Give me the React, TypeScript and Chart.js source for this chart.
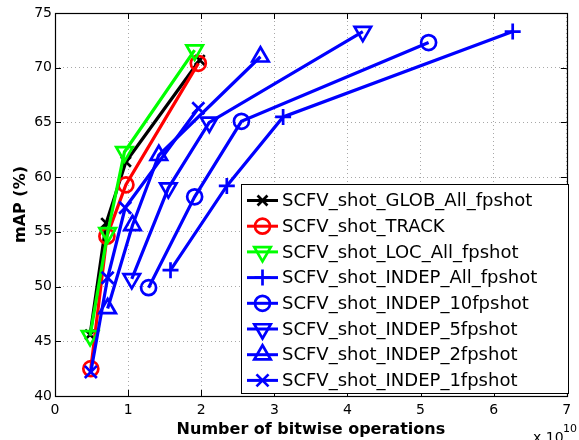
import React, { useEffect, useRef } from 'react';
import { Chart, registerables } from 'chart.js';
import { drawPoint } from 'chart.js/helpers';

Chart.register(...registerables);

const FONT = '"DejaVu Sans", "Liberation Sans", sans-serif';

const seriesNames = [
  'SCFV_shot_GLOB_All_fpshot',
  'SCFV_shot_TRACK',
  'SCFV_shot_LOC_All_fpshot',
  'SCFV_shot_INDEP_All_fpshot',
  'SCFV_shot_INDEP_10fpshot',
  'SCFV_shot_INDEP_5fpshot',
  'SCFV_shot_INDEP_2fpshot',
  'SCFV_shot_INDEP_1fpshot',
];

// x values in units of 10^10 bitwise operations, y values mAP (%)
const globX = [0.48, 0.7, 0.97, 1.98];
const globY = [45.6, 55.8, 61.4, 70.7];
const trackX = [0.49, 0.71, 0.97, 1.96];
const trackY = [42.5, 54.6, 59.3, 70.4];
const locX = [0.48, 0.72, 0.95, 1.91];
const locY = [45.5, 54.9, 62.3, 71.6];
const indepAllX = [1.58, 2.35, 3.12, 6.26];
const indepAllY = [51.5, 59.2, 65.5, 73.3];
const indep10X = [1.28, 1.91, 2.55, 5.11];
const indep10Y = [49.9, 58.2, 65.1, 72.3];
const indep5X = [1.05, 1.55, 2.11, 4.21];
const indep5Y = [50.7, 59.0, 65.0, 73.3];
const indep2X = [0.72, 1.06, 1.42, 2.81];
const indep2Y = [48.0, 55.6, 62.0, 71.0];
const indep1X = [0.49, 0.72, 0.96, 1.96];
const indep1Y = [42.2, 50.8, 57.2, 66.3];

const xTickValues = [0, 1, 2, 3, 4, 5, 6, 7];
const yTickValues = [40, 45, 50, 55, 60, 65, 70, 75];

const xs = [globX, trackX, locX, indepAllX, indep10X, indep5X, indep2X, indep1X];
const ys = [globY, trackY, locY, indepAllY, indep10Y, indep5Y, indep2Y, indep1Y];

const styles = [
  { color: '#000000', pointStyle: 'crossRot', rotation: 0, radius: 7 },
  { color: '#ff0000', pointStyle: 'circle', rotation: 0, radius: 7.5 },
  { color: '#00ff00', pointStyle: 'triangle', rotation: 180, radius: 9.5 },
  { color: '#0000ff', pointStyle: 'cross', rotation: 0, radius: 8 },
  { color: '#0000ff', pointStyle: 'circle', rotation: 0, radius: 7.5 },
  { color: '#0000ff', pointStyle: 'triangle', rotation: 180, radius: 9.5 },
  { color: '#0000ff', pointStyle: 'triangle', rotation: 0, radius: 9.5 },
  { color: '#0000ff', pointStyle: 'crossRot', rotation: 0, radius: 8.5 },
];

const frameAndLegend = {
  id: 'frameAndLegend',
  afterDatasetsDraw(chart: any) {
    const { ctx, chartArea, scales } = chart;
    const { left, right, top, bottom } = chartArea;
    ctx.save();
    ctx.strokeStyle = '#000';
    ctx.lineWidth = 1.2;
    ctx.setLineDash([]);
    ctx.strokeRect(Math.round(left) + 0.5, Math.round(top) + 0.5, Math.round(right - left), Math.round(bottom - top));
    const tl = 6;
    ctx.lineWidth = 1;
    ctx.beginPath();
    for (const t of scales.x.ticks) {
      const px = Math.round(scales.x.getPixelForValue(t.value)) + 0.5;
      ctx.moveTo(px, bottom);
      ctx.lineTo(px, bottom - tl);
      ctx.moveTo(px, top);
      ctx.lineTo(px, top + tl);
    }
    for (const t of scales.y.ticks) {
      const py = Math.round(scales.y.getPixelForValue(t.value)) + 0.5;
      ctx.moveTo(left, py);
      ctx.lineTo(left + tl, py);
      ctx.moveTo(right, py);
      ctx.lineTo(right - tl, py);
    }
    ctx.stroke();
    ctx.restore();
  },
  afterDraw(chart: any) {
    const { ctx } = chart;
    ctx.save();
    // legend box
    const bx = 241.5, by = 184.5, bw = 327, bh = 209;
    ctx.fillStyle = '#fff';
    ctx.fillRect(bx, by, bw, bh);
    ctx.strokeStyle = '#000';
    ctx.lineWidth = 1;
    ctx.strokeRect(bx, by, bw, bh);
    const rowH = 25.7;
    chart.data.datasets.forEach((ds: any, i: number) => {
      const yy = by + 16 + i * rowH;
      ctx.strokeStyle = ds.borderColor;
      ctx.lineWidth = 3;
      ctx.beginPath();
      ctx.moveTo(247, yy);
      ctx.lineTo(278, yy);
      ctx.stroke();
      ctx.fillStyle = 'rgba(0,0,0,0)';
      ctx.strokeStyle = ds.borderColor;
      ctx.lineWidth = ds.pointBorderWidth;
      drawPoint(ctx, {
        pointStyle: ds.pointStyle,
        rotation: ds.pointRotation,
        radius: ds.pointRadius,
        borderWidth: ds.pointBorderWidth,
      } as any, 262.5, yy);
      ctx.fillStyle = '#000';
      ctx.font = `18px ${FONT}`;
      ctx.textBaseline = 'middle';
      ctx.textAlign = 'left';
      ctx.fillText(ds.label, 282, yy + 1);
    });
    // exponent label
    ctx.fillStyle = '#000';
    ctx.textBaseline = 'alphabetic';
    ctx.font = `14px ${FONT}`;
    ctx.fillText('x 10', 533, 442);
    ctx.font = `11px ${FONT}`;
    ctx.fillText('10', 563, 432);
    ctx.restore();
  },
};

export default function App() {
  const ref = useRef<HTMLCanvasElement | null>(null);
  useEffect(() => {
    if (!ref.current) return;
    const datasets = seriesNames.map((name, i) => ({
      label: name,
      data: xs[i].map((x, j) => ({ x, y: ys[i][j] })),
      showLine: true,
      borderColor: styles[i].color,
      backgroundColor: 'rgba(0,0,0,0)',
      borderWidth: 3.2,
      pointStyle: styles[i].pointStyle,
      pointRotation: styles[i].rotation,
      pointRadius: styles[i].radius,
      pointHoverRadius: styles[i].radius,
      pointBorderWidth: 2.7,
      pointBorderColor: styles[i].color,
      pointBackgroundColor: 'rgba(0,0,0,0)',
      order: seriesNames.length - i,
      clip: false as any,
    }));
    const tickFont = { family: FONT, size: 14 };
    const chart = new Chart(ref.current, {
      type: 'scatter',
      data: { datasets },
      options: {
        responsive: false,
        animation: false,
        layout: { padding: { top: 13, right: 4, left: 0, bottom: 0 } },
        plugins: { legend: { display: false }, tooltip: { enabled: false } },
        scales: {
          x: {
            type: 'linear',
            min: 0,
            max: 7,
            afterBuildTicks: (s: any) => { s.ticks = xTickValues.map((v) => ({ value: v })); },
            ticks: { stepSize: 1, color: '#000', font: tickFont, padding: 6, maxRotation: 0 },
            grid: { color: '#a8a8a8', lineWidth: 1, drawTicks: false },
            border: { display: false, dash: [1, 3] },
            title: {
              display: true,
              text: 'Number of bitwise operations',
              color: '#000',
              font: { family: FONT, size: 16, weight: 'bold' },
              padding: { top: 0, bottom: 1 },
            },
            afterFit: (s: any) => { s.height = 44; },
          },
          y: {
            type: 'linear',
            min: 40,
            max: 75,
            afterBuildTicks: (s: any) => { s.ticks = yTickValues.map((v) => ({ value: v })); },
            ticks: { stepSize: 5, color: '#000', font: tickFont, padding: 3 },
            grid: { color: '#a8a8a8', lineWidth: 1, drawTicks: false },
            border: { display: false, dash: [1, 3] },
            title: {
              display: true,
              text: 'mAP (%)',
              color: '#000',
              font: { family: FONT, size: 16, weight: 'bold' },
              padding: { top: 11, bottom: 0 },
            },
            afterFit: (s: any) => { s.width = 55; },
          },
        },
      } as any,
      plugins: [frameAndLegend],
    });
    return () => chart.destroy();
  }, []);
  return (
    <div style={{ position: 'fixed', left: 0, top: 0, width: 579, height: 440, background: '#fff' }}>
      <canvas ref={ref} width={579} height={440} style={{ display: 'block' }} />
    </div>
  );
}
